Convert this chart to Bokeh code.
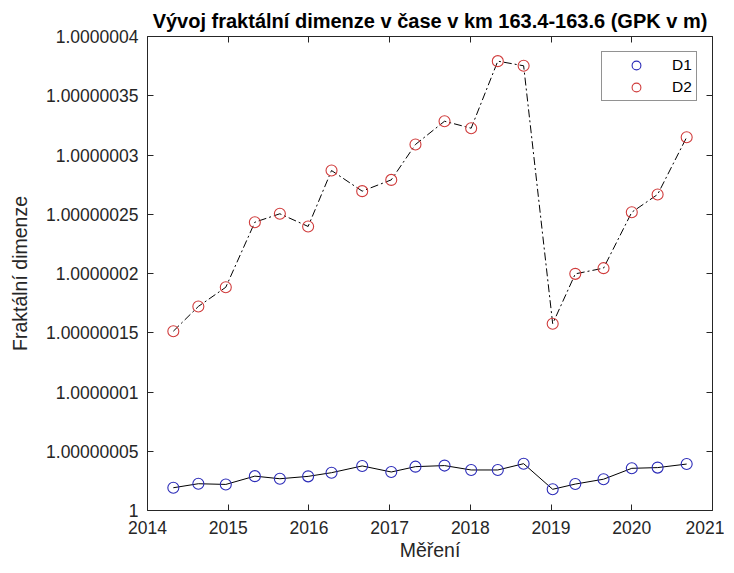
from bokeh.plotting import figure
from bokeh.models import (Range1d, LinearAxis, FixedTicker, CustomJSTickFormatter,
                          Legend, LegendItem, CustomLabelingPolicy)
from bokeh.embed import file_html
from bokeh.resources import INLINE

# --- data ---
mereni = [2014.32, 2014.63, 2014.97, 2015.33, 2015.64, 2015.99, 2016.28, 2016.66,
          2017.02, 2017.32, 2017.68, 2018.01, 2018.34, 2018.66, 2019.02, 2019.30,
          2019.65, 2020.00, 2020.32, 2020.68]
d1 = [1.0000000192, 1.0000000226, 1.0000000220, 1.0000000290, 1.0000000268,
      1.0000000288, 1.0000000319, 1.0000000376, 1.0000000325, 1.0000000370,
      1.0000000379, 1.0000000342, 1.0000000342, 1.0000000395, 1.0000000179,
      1.0000000223, 1.0000000264, 1.0000000356, 1.0000000362, 1.0000000392]
d2 = [1.0000001513, 1.0000001722, 1.0000001884, 1.0000002433, 1.0000002504,
      1.0000002397, 1.0000002869, 1.0000002695, 1.0000002790, 1.0000003089,
      1.0000003285, 1.0000003226, 1.0000003792, 1.0000003753, 1.0000001576,
      1.0000001997, 1.0000002045, 1.0000002517, 1.0000002667, 1.0000003150]
x_ticks = [2014, 2015, 2016, 2017, 2018, 2019, 2020, 2021]
y_ticks = [1.0, 1.00000005, 1.0000001, 1.00000015, 1.0000002, 1.00000025,
           1.0000003, 1.00000035, 1.0000004]

FONT = "Liberation Sans"
AX = "#262626"

p = figure(width=724, height=565, output_backend="svg", toolbar_location=None,
           x_range=Range1d(2014, 2021), y_range=Range1d(1.0, 1.0000004),
           min_border_left=147, min_border_right=12, min_border_top=36,
           min_border_bottom=55, background_fill_color="white",
           border_fill_color="white")
p.outline_line_color = None
p.xgrid.visible = False
p.ygrid.visible = False

p.title.text = "Vývoj fraktální dimenze v čase v km 163.4-163.6 (GPK v m)"
p.title.align = "center"
p.title.text_font = FONT
p.title.text_font_size = "20px"
p.title.text_font_style = "bold"
p.title.text_color = "black"
p.title.standoff = 10

fmt = CustomJSTickFormatter(code="""
let s = tick.toFixed(8);
s = s.replace(/0+$/, '').replace(/\\.$/, '');
return s;
""")

def style_axis(ax, ticks, labels=True):
    ax.ticker = FixedTicker(ticks=ticks)
    ax.axis_line_color = AX
    ax.axis_line_width = 1
    ax.major_tick_line_color = AX
    ax.major_tick_in = 6
    ax.major_tick_out = 0
    ax.minor_tick_line_color = None
    ax.major_label_text_font = FONT
    ax.major_label_text_color = AX
    ax.axis_label_text_font = FONT
    ax.axis_label_text_color = AX
    ax.axis_label_text_font_style = "normal"
    ax.major_label_text_font_size = "17.5px"
    ax.axis_label_text_font_size = "19.5px"
    if not labels:
        # tick marks only (MATLAB box), no labels drawn and no space reserved
        ax.major_label_policy = CustomLabelingPolicy(code="return []")
        ax.major_label_text_font_size = "0px"
        ax.major_label_standoff = 0

xa = p.xaxis[0]
style_axis(xa, x_ticks)
xa.axis_label = "Měření"
xa.major_label_standoff = 10
xa.axis_label_standoff = 2

ya = p.yaxis[0]
style_axis(ya, y_ticks)
ya.formatter = fmt
ya.axis_label = "Fraktální dimenze"
ya.major_label_standoff = 9
ya.axis_label_standoff = 12

top = LinearAxis()
style_axis(top, x_ticks, labels=False)
p.add_layout(top, "above")
right = LinearAxis()
style_axis(right, y_ticks, labels=False)
p.add_layout(right, "right")

BLUE = "#2b2bb8"
RED = "#d03c3c"

p.line(mereni, d1, line_color="black", line_width=1)
p.line(mereni, d2, line_color="black", line_width=1, line_dash="8 3 2 3")
s1 = p.scatter(mereni, d1, marker="circle", size=11, fill_color=None,
               line_color=BLUE, line_width=1.1)
s2 = p.scatter(mereni, d2, marker="circle", size=11, fill_color=None,
               line_color=RED, line_width=1.1)

legend = Legend(items=[LegendItem(label="D1", renderers=[s1]),
                       LegendItem(label="D2", renderers=[s2])],
                location="top_right", margin=15, padding=2, spacing=0,
                glyph_width=64, glyph_height=22, label_height=22,
                label_width=22, label_standoff=4,
                label_text_font=FONT, label_text_font_size="15.5px",
                label_text_color="black",
                border_line_color=AX, border_line_width=1,
                background_fill_color="white", background_fill_alpha=1)
p.add_layout(legend)

open("out.html", "w").write(file_html(p, INLINE))
